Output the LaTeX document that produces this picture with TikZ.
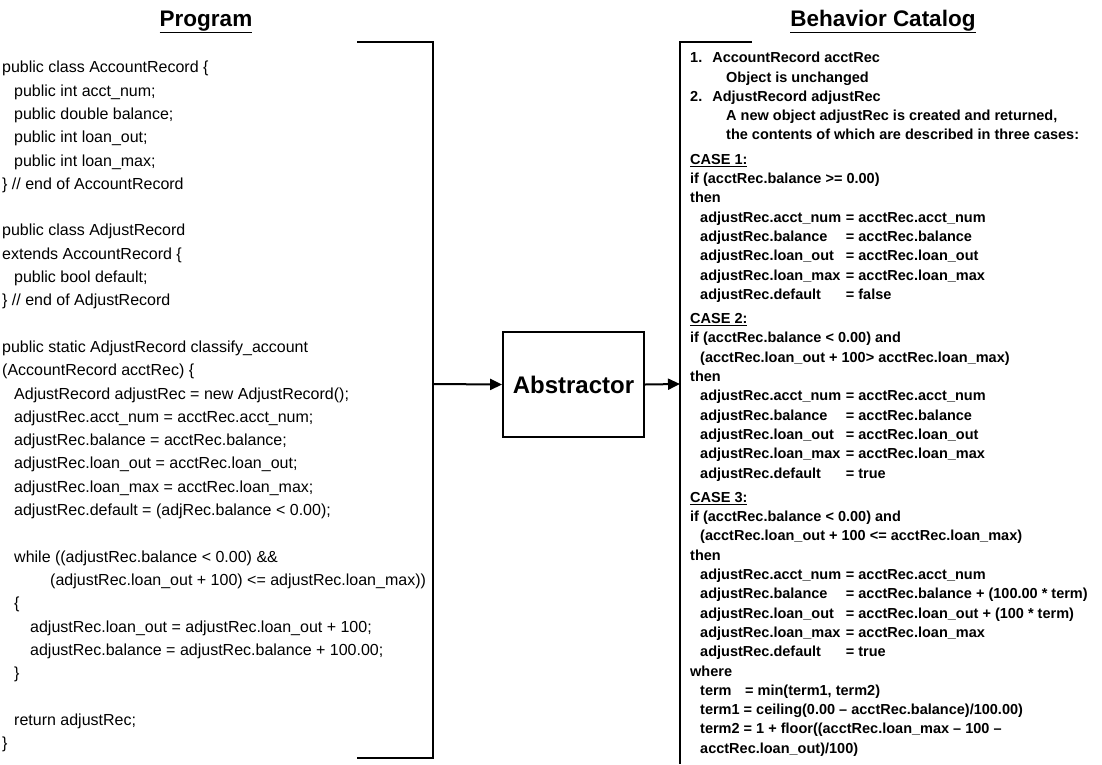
\documentclass[tikz,border=0pt]{standalone}
\usepackage{fontspec}
\setmainfont{Liberation Sans}
\usepackage{tikz}
\usetikzlibrary{arrows.meta}

\tikzset{
  bracket/.style={line width=2pt},
  flow/.style={line width=2pt, -{Triangle[length=12pt, width=11pt]}},
  heading/.style={font=\fontsize{22.5}{26}\selectfont\bfseries, inner sep=0pt, anchor=base},
  code/.style={font=\fontsize{16}{23.3}\selectfont, align=left, anchor=north west, inner sep=0pt},
  catalog/.style={font=\fontsize{14.5}{19.3}\selectfont\bfseries, align=left, anchor=north west, inner sep=0pt},
  procbox/.style={draw, line width=1.8pt, minimum width=141pt, minimum height=105pt, inner sep=0pt,
    font=\fontsize{24}{28}\selectfont\bfseries}
}

\newcommand{\ind}[1]{\hspace*{#1pt}}
\newcommand{\asg}[2]{\makebox[10.05em][l]{#1}= #2}

\begin{document}
\begin{tikzpicture}[x=1pt, y=-1pt]
        \useasboundingbox (0,0) rectangle (1102,764);

        % Titles
        \node[heading] (progtitle) at (206,26) {\underline{Program}};
        \node[heading] (cattitle) at (883,26) {\underline{Behavior Catalog}};

        % Brackets
        \draw[bracket] (357,42) -- (433,42) -- (433,758) -- (357,758);
        \draw[bracket] (752,42) -- (680,42) -- (680,764);
        \coordinate (progout) at (433,384);
        \coordinate (catin) at (680,384);

        % Program text
        \node[code] (prog) at (2,61) {%
public class AccountRecord \{\\
\ind{12}public int acct\_num;\\
\ind{12}public double balance;\\
\ind{12}public int loan\_out;\\
\ind{12}public int loan\_max;\\
\} // end of AccountRecord\\
\mbox{}\\
public class AdjustRecord\\
extends AccountRecord \{\\
\ind{12}public bool default;\\
\} // end of AdjustRecord\\
\mbox{}\\
public static AdjustRecord classify\_account\\
(AccountRecord acctRec) \{\\
\ind{12}AdjustRecord adjustRec = new AdjustRecord();\\
\ind{12}adjustRec.acct\_num = acctRec.acct\_num;\\
\ind{12}adjustRec.balance = acctRec.balance;\\
\ind{12}adjustRec.loan\_out = acctRec.loan\_out;\\
\ind{12}adjustRec.loan\_max = acctRec.loan\_max;\\
\ind{12}adjustRec.default = (adjRec.balance < 0.00);\\
\mbox{}\\
\ind{12}while ((adjustRec.balance < 0.00) \&\&\\
\ind{48}(adjustRec.loan\_out + 100) <= adjustRec.loan\_max))\\
\ind{12}\{\\
\ind{28}adjustRec.loan\_out = adjustRec.loan\_out + 100;\\
\ind{28}adjustRec.balance = adjustRec.balance + 100.00;\\
\ind{12}\}\\
\mbox{}\\
\ind{12}return adjustRec;\\
\}};

        % Abstractor
        \node[procbox] (abs) at (573.5,384.5) {Abstractor};
        \draw[flow] (progout) -- (abs.west);
        \draw[flow] (abs.east) -- (catin);

        % Behavior catalog text
        \node[catalog] (cat) at (690,52) {%
1.\ind{10}AccountRecord acctRec\\
\ind{36}Object is unchanged\\
2.\ind{10}AdjustRecord adjustRec\\
\ind{36}A new object adjustRec is created and returned,\\
\ind{36}the contents of which are described in three cases:\\[5pt]
\underline{CASE 1:}\\
if (acctRec.balance >= 0.00)\\
then\\
\ind{10}\asg{adjustRec.acct\_num}{acctRec.acct\_num}\\
\ind{10}\asg{adjustRec.balance}{acctRec.balance}\\
\ind{10}\asg{adjustRec.loan\_out}{acctRec.loan\_out}\\
\ind{10}\asg{adjustRec.loan\_max}{acctRec.loan\_max}\\
\ind{10}\asg{adjustRec.default}{false}\\[5pt]
\underline{CASE 2:}\\
if (acctRec.balance < 0.00) and\\
\ind{10}(acctRec.loan\_out + 100> acctRec.loan\_max)\\
then\\
\ind{10}\asg{adjustRec.acct\_num}{acctRec.acct\_num}\\
\ind{10}\asg{adjustRec.balance}{acctRec.balance}\\
\ind{10}\asg{adjustRec.loan\_out}{acctRec.loan\_out}\\
\ind{10}\asg{adjustRec.loan\_max}{acctRec.loan\_max}\\
\ind{10}\asg{adjustRec.default}{true}\\[5pt]
\underline{CASE 3:}\\
if (acctRec.balance < 0.00) and\\
\ind{10}(acctRec.loan\_out + 100 <= acctRec.loan\_max)\\
then\\
\ind{10}\asg{adjustRec.acct\_num}{acctRec.acct\_num}\\
\ind{10}\asg{adjustRec.balance}{acctRec.balance + (100.00 * term)}\\
\ind{10}\asg{adjustRec.loan\_out}{acctRec.loan\_out + (100 * term)}\\
\ind{10}\asg{adjustRec.loan\_max}{acctRec.loan\_max}\\
\ind{10}\asg{adjustRec.default}{true}\\
where\\
\ind{10}\makebox[3.1em][l]{term}= min(term1, term2)\\
\ind{10}term1 = ceiling(0.00 -- acctRec.balance)/100.00)\\
\ind{10}term2 = 1 + floor((acctRec.loan\_max -- 100 --\\
\ind{10}acctRec.loan\_out)/100)};
\end{tikzpicture}
\end{document}
